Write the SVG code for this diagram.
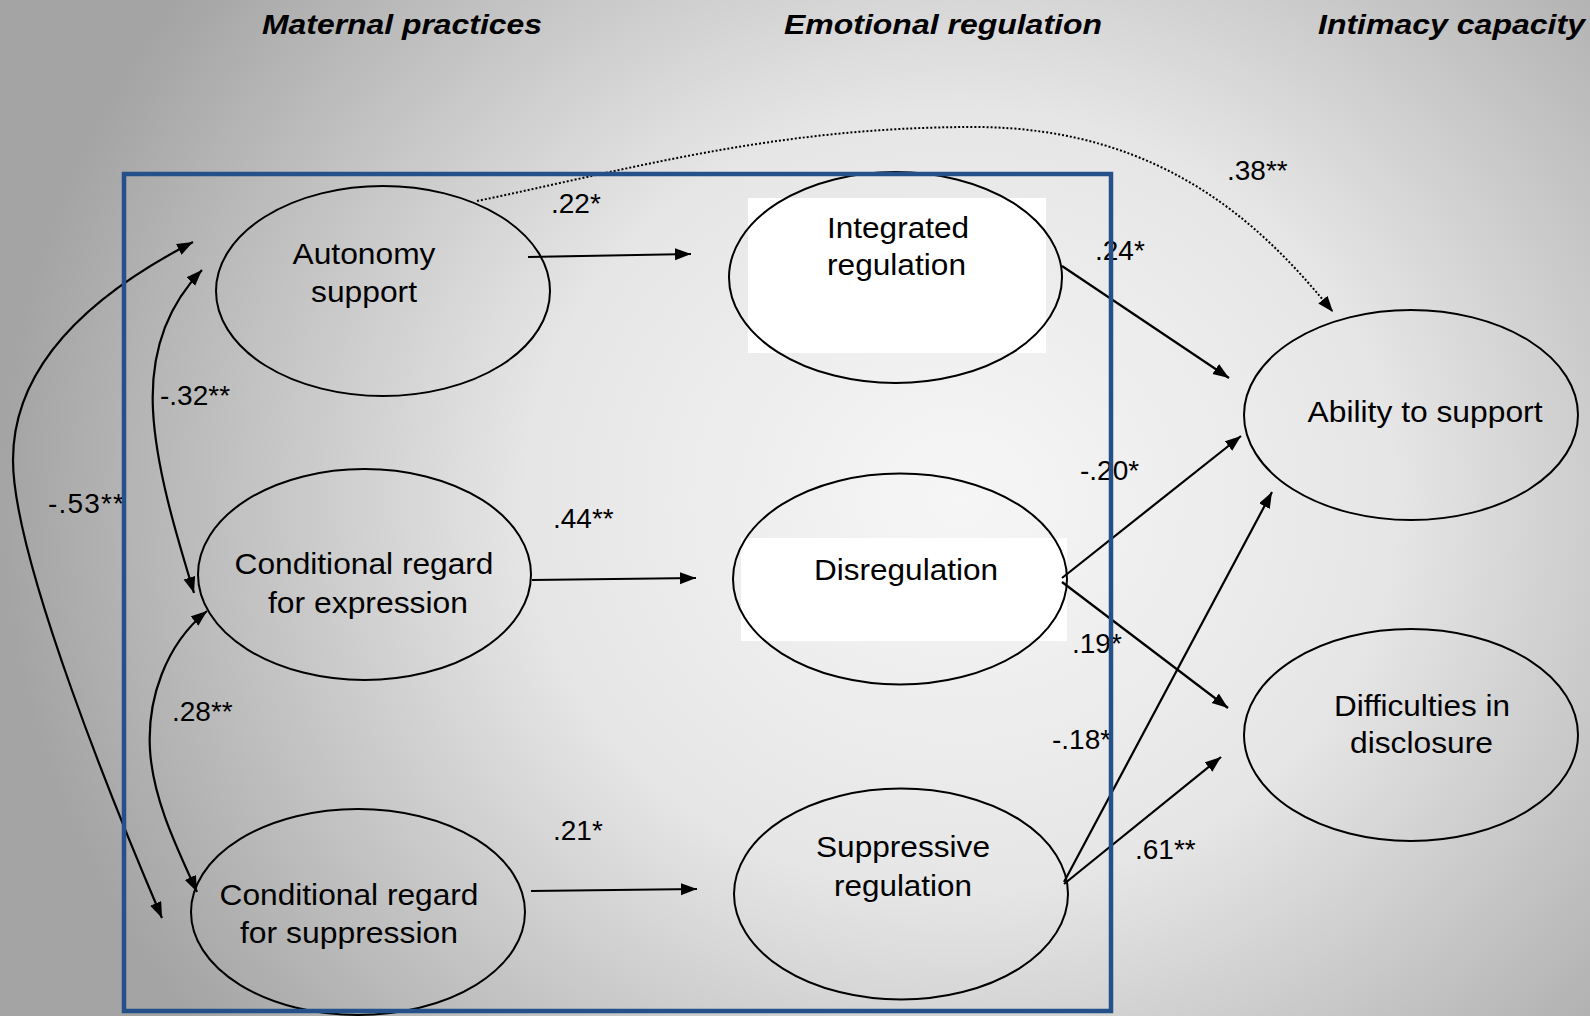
<svg xmlns="http://www.w3.org/2000/svg" width="1590" height="1016" viewBox="0 0 1590 1016">
<defs>
<radialGradient id="bg" gradientUnits="userSpaceOnUse" cx="960" cy="500" r="960" gradientTransform="translate(960 500) scale(1 0.9) translate(-960 -500)">
<stop offset="0" stop-color="#f6f6f6"/>
<stop offset="0.45" stop-color="#e6e6e6"/>
<stop offset="1" stop-color="#a4a4a4"/>
</radialGradient>
<marker id="arr" markerUnits="userSpaceOnUse" markerWidth="18" markerHeight="14" refX="16" refY="6" orient="auto-start-reverse" viewBox="0 0 18 14">
<path d="M0,0 L16,6 L0,12 z" fill="#000"/>
</marker>
<style>
.node{fill:none;stroke:#000;stroke-width:2}
.nt{font-family:"Liberation Sans",Arial,sans-serif;font-size:30px;fill:#000;text-anchor:middle}
.lb{font-family:"Liberation Sans",Arial,sans-serif;font-size:28px;fill:#000}
.hd{font-family:"Liberation Sans",Arial,sans-serif;font-size:27px;font-weight:bold;font-style:italic;fill:#000}
.cn{fill:none;stroke:#000;stroke-width:2.2}
.dot{fill:none;stroke:#000;stroke-width:2;stroke-dasharray:2 2}
.wb{fill:#fff;stroke:none}
</style>
</defs>
<rect x="0" y="0" width="1590" height="1016" fill="url(#bg)"/>

<g id="headers">
<text class="hd" x="262" y="34" textLength="280" lengthAdjust="spacingAndGlyphs">Maternal practices</text>
<text class="hd" x="784" y="34" textLength="318" lengthAdjust="spacingAndGlyphs">Emotional regulation</text>
<text class="hd" x="1318" y="34" textLength="267" lengthAdjust="spacingAndGlyphs">Intimacy capacity</text>
</g>

<g id="node-autonomy">
<ellipse class="node" cx="383" cy="291" rx="167" ry="105"/>
<text class="nt" x="364" y="264" textLength="143" lengthAdjust="spacingAndGlyphs">Autonomy</text>
<text class="nt" x="364" y="302" textLength="106" lengthAdjust="spacingAndGlyphs">support</text>
</g>
<g id="node-cond-expression">
<ellipse class="node" cx="364.5" cy="574.5" rx="166.5" ry="105.5"/>
<text class="nt" x="364" y="574" textLength="259" lengthAdjust="spacingAndGlyphs">Conditional regard</text>
<text class="nt" x="368" y="613" textLength="200" lengthAdjust="spacingAndGlyphs">for expression</text>
</g>
<g id="node-cond-suppression">
<ellipse class="node" cx="358" cy="912" rx="167" ry="103"/>
<text class="nt" x="349" y="905" textLength="259" lengthAdjust="spacingAndGlyphs">Conditional regard</text>
<text class="nt" x="349" y="943" textLength="218" lengthAdjust="spacingAndGlyphs">for suppression</text>
</g>
<g id="node-integrated">
<rect class="wb" x="748" y="198" width="298" height="155"/>
<ellipse class="node" cx="895.5" cy="277.5" rx="166.5" ry="105.5"/>
<text class="nt" x="898" y="238" textLength="142" lengthAdjust="spacingAndGlyphs">Integrated</text>
<text class="nt" x="896.5" y="275" textLength="139" lengthAdjust="spacingAndGlyphs">regulation</text>
</g>
<g id="node-disregulation">
<rect class="wb" x="741" y="538" width="326" height="103"/>
<ellipse class="node" cx="900" cy="579" rx="167" ry="105.5"/>
<text class="nt" x="906" y="580" textLength="184" lengthAdjust="spacingAndGlyphs">Disregulation</text>
</g>
<g id="node-suppressive">
<ellipse class="node" cx="901" cy="894" rx="167" ry="105.5"/>
<text class="nt" x="903" y="857" textLength="174" lengthAdjust="spacingAndGlyphs">Suppressive</text>
<text class="nt" x="903" y="895.5" textLength="138" lengthAdjust="spacingAndGlyphs">regulation</text>
</g>
<g id="node-ability">
<ellipse class="node" cx="1411" cy="415" rx="167" ry="105"/>
<text class="nt" x="1425" y="422" textLength="235" lengthAdjust="spacingAndGlyphs">Ability to support</text>
</g>
<g id="node-difficulties">
<ellipse class="node" cx="1411" cy="735" rx="167" ry="106"/>
<text class="nt" x="1422" y="715.5" textLength="176" lengthAdjust="spacingAndGlyphs">Difficulties in</text>
<text class="nt" x="1421.5" y="752.6" textLength="143" lengthAdjust="spacingAndGlyphs">disclosure</text>
</g>

<g id="connectors">
<path class="cn" d="M528,257 L691,254" marker-end="url(#arr)"/>
<path class="cn" d="M532,580 L696,578" marker-end="url(#arr)"/>
<path class="cn" d="M531,891 L697,889" marker-end="url(#arr)"/>
<path class="cn" d="M1062,266 L1229,378" marker-end="url(#arr)"/>
<path class="cn" d="M1062,578 L1241,436" marker-end="url(#arr)"/>
<path class="cn" d="M1062,582 L1228,708" marker-end="url(#arr)"/>
<path class="cn" d="M1064,882 L1272,492" marker-end="url(#arr)"/>
<path class="cn" d="M1064,884 L1221,757" marker-end="url(#arr)"/>
<path class="dot" d="M477,201 C627,170 774,127 974,127 C1170,127 1270,235 1333,312" marker-end="url(#arr)"/>
<path class="cn" d="M202,270 C168,305 150,350 153,410 C156,470 178,540 194,593" marker-start="url(#arr)" marker-end="url(#arr)"/>
<path class="cn" d="M207,611 C165,645 147,700 150,750 C153,800 178,850 197,892" marker-start="url(#arr)" marker-end="url(#arr)"/>
<path class="cn" d="M193,242 C100,290 13,360 13,460 C13,560 120,820 162,918" marker-start="url(#arr)" marker-end="url(#arr)"/>
</g>

<g id="labels">
<text class="lb" x="551" y="213">.22*</text>
<text class="lb" x="1227" y="180">.38**</text>
<text class="lb" x="1095" y="260">.24*</text>
<text class="lb" x="160" y="405">-.32**</text>
<text class="lb" x="48" y="513" textLength="76" lengthAdjust="spacing">-.53**</text>
<text class="lb" x="553" y="528">.44**</text>
<text class="lb" x="172" y="721">.28**</text>
<text class="lb" x="553" y="840">.21*</text>
<text class="lb" x="1080" y="480">-.20*</text>
<text class="lb" x="1072" y="653">.19*</text>
<text class="lb" x="1052" y="749">-.18*</text>
<text class="lb" x="1135" y="859">.61**</text>
</g>

<g id="frame">
<rect x="124" y="174" width="987" height="837" fill="none" stroke="#25508a" stroke-width="4.5"/>
</g>
</svg>
